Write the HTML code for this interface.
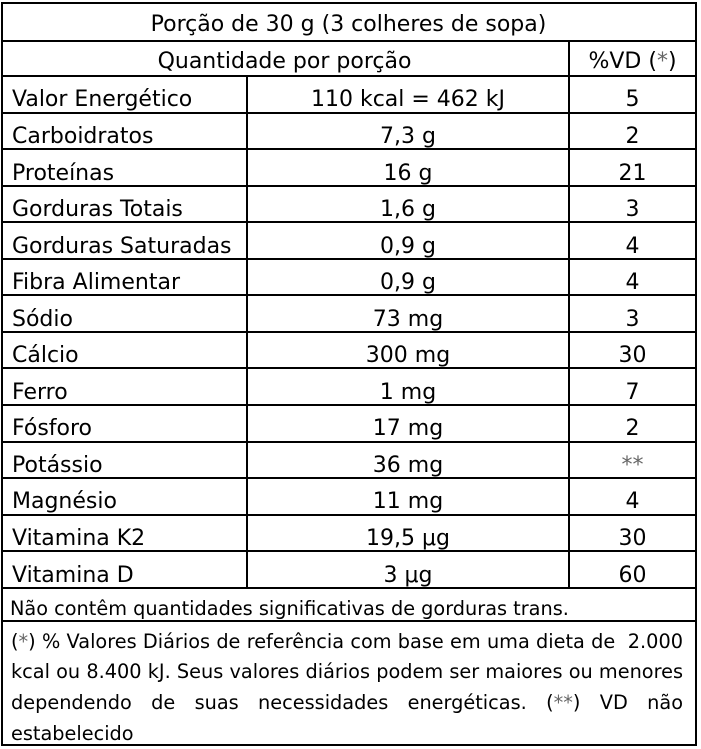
<!DOCTYPE html>
<html>
<head>
<meta charset="utf-8">
<style>
  html,body{margin:0;padding:0;background:#fff;}
  body{width:701px;height:749px;position:relative;overflow:hidden;}
  .h{position:absolute;left:0.5px;width:696.5px;height:2px;background:#000;}
  .v{position:absolute;width:2px;background:#000;}
  .t{position:absolute;font-family:"DejaVu Sans",sans-serif;font-size:22px;line-height:26px;white-space:nowrap;color:#000;margin-top:2px;}
  .c1{left:12px;}
  .c2{left:247px;width:322px;text-align:center;}
  .c3{left:569px;width:127px;text-align:center;}
  .s{font-family:"DejaVu Sans",sans-serif;font-size:19.3px;line-height:22px;color:#000;position:absolute;}
  .j{left:11px;width:672px;text-align:justify;text-align-last:justify;white-space:nowrap;}
  .ast{color:#666;}
</style>
</head>
<body>
<!-- horizontal lines -->
<div class="h" style="top:2.3px"></div>
<div class="h" style="top:39.5px"></div>
<div class="h" style="top:75px"></div>
<div class="h" style="top:111.55px"></div>
<div class="h" style="top:148.1px"></div>
<div class="h" style="top:184.65px"></div>
<div class="h" style="top:221.2px"></div>
<div class="h" style="top:257.75px"></div>
<div class="h" style="top:294.3px"></div>
<div class="h" style="top:330.85px"></div>
<div class="h" style="top:367.4px"></div>
<div class="h" style="top:403.95px"></div>
<div class="h" style="top:440.5px"></div>
<div class="h" style="top:477.05px"></div>
<div class="h" style="top:513.6px"></div>
<div class="h" style="top:550.15px"></div>
<div class="h" style="top:586.7px"></div>
<div class="h" style="top:619.5px"></div>
<div class="h" style="top:744px"></div>
<!-- vertical lines -->
<div class="v" style="left:0.5px;top:2.3px;height:743.7px"></div>
<div class="v" style="left:695px;top:2.3px;height:743.7px"></div>
<div class="v" style="left:245.5px;top:75px;height:513.7px"></div>
<div class="v" style="left:568px;top:39.5px;height:549.2px"></div>

<!-- header -->
<div class="t" style="left:0;width:697px;text-align:center;top:10.1px">Porção de 30 g (3 colheres de sopa)</div>
<div class="t" style="left:0;width:569px;text-align:center;top:47.4px">Quantidade por porção</div>
<div class="t c3" style="top:47.4px">%VD (<span class="ast">*</span>)</div>

<!-- rows -->
<div class="t c1" style="top:85.4px">Valor Energético</div>
<div class="t c2" style="top:85.4px">110 kcal = 462 kJ</div>
<div class="t c3" style="top:85.4px">5</div>

<div class="t c1" style="top:121.95px">Carboidratos</div>
<div class="t c2" style="top:121.95px">7,3 g</div>
<div class="t c3" style="top:121.95px">2</div>

<div class="t c1" style="top:158.5px">Proteínas</div>
<div class="t c2" style="top:158.5px">16 g</div>
<div class="t c3" style="top:158.5px">21</div>

<div class="t c1" style="top:195.05px">Gorduras Totais</div>
<div class="t c2" style="top:195.05px">1,6 g</div>
<div class="t c3" style="top:195.05px">3</div>

<div class="t c1" style="top:231.6px">Gorduras Saturadas</div>
<div class="t c2" style="top:231.6px">0,9 g</div>
<div class="t c3" style="top:231.6px">4</div>

<div class="t c1" style="top:268.15px">Fibra Alimentar</div>
<div class="t c2" style="top:268.15px">0,9 g</div>
<div class="t c3" style="top:268.15px">4</div>

<div class="t c1" style="top:304.7px">Sódio</div>
<div class="t c2" style="top:304.7px">73 mg</div>
<div class="t c3" style="top:304.7px">3</div>

<div class="t c1" style="top:341.25px">Cálcio</div>
<div class="t c2" style="top:341.25px">300 mg</div>
<div class="t c3" style="top:341.25px">30</div>

<div class="t c1" style="top:377.8px">Ferro</div>
<div class="t c2" style="top:377.8px">1 mg</div>
<div class="t c3" style="top:377.8px">7</div>

<div class="t c1" style="top:414.35px">Fósforo</div>
<div class="t c2" style="top:414.35px">17 mg</div>
<div class="t c3" style="top:414.35px">2</div>

<div class="t c1" style="top:450.9px">Potássio</div>
<div class="t c2" style="top:450.9px">36 mg</div>
<div class="t c3" style="top:450.9px"><span class="ast">**</span></div>

<div class="t c1" style="top:487.45px">Magnésio</div>
<div class="t c2" style="top:487.45px">11 mg</div>
<div class="t c3" style="top:487.45px">4</div>

<div class="t c1" style="top:524px">Vitamina K2</div>
<div class="t c2" style="top:524px">19,5 μg</div>
<div class="t c3" style="top:524px">30</div>

<div class="t c1" style="top:560.55px">Vitamina D</div>
<div class="t c2" style="top:560.55px">3 μg</div>
<div class="t c3" style="top:560.55px">60</div>

<!-- footer -->
<div class="s" style="left:10px;top:598.1px;white-space:nowrap">Não contêm quantidades significativas de gorduras trans.</div>
<div class="s j" style="top:630.7px">(<span class="ast">*</span>) % Valores Diários de referência com base em uma dieta de&nbsp; 2.000</div>
<div class="s j" style="top:661.4px">kcal ou 8.400 kJ. Seus valores diários podem ser maiores ou menores</div>
<div class="s j" style="top:692.4px">dependendo de suas necessidades energéticas. (<span class="ast">**</span>) VD não</div>
<div class="s" style="left:11px;top:722.9px;white-space:nowrap">estabelecido</div>
</body>
</html>
